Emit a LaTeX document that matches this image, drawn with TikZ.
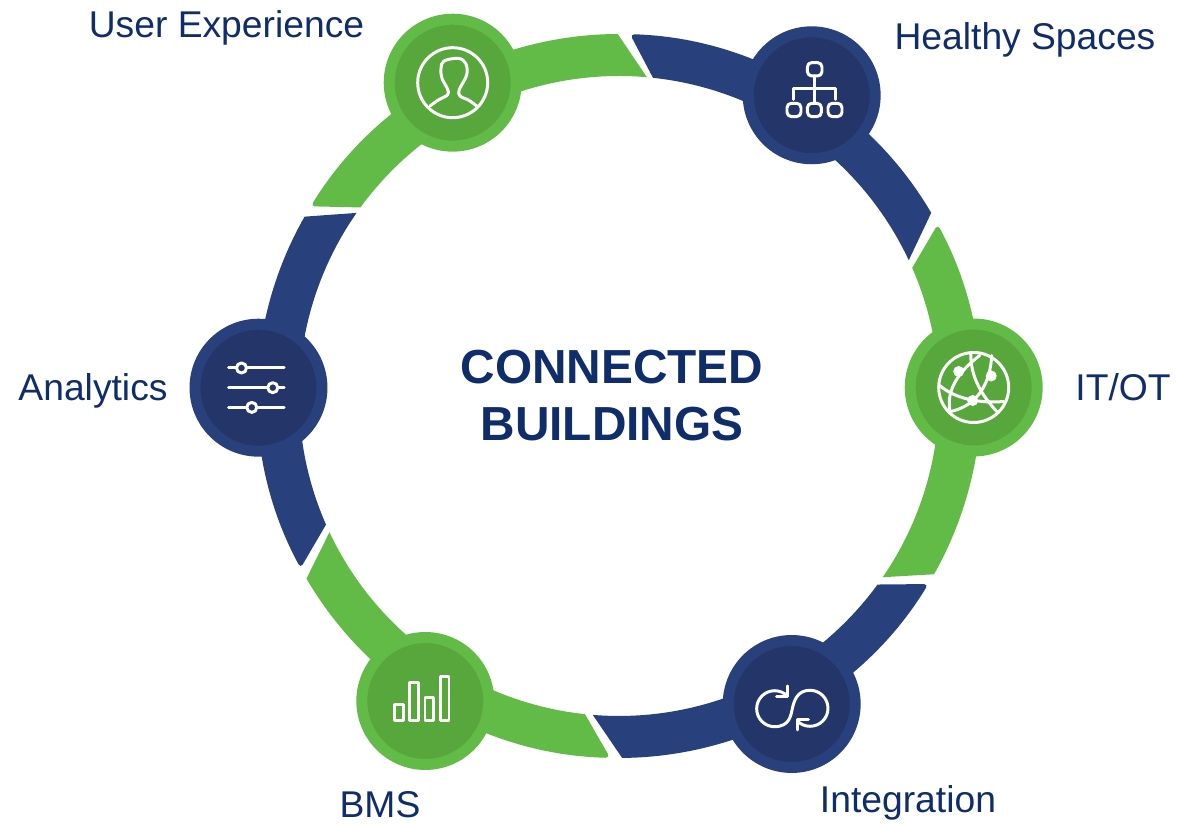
\documentclass[tikz,border=0pt]{standalone}
\usepackage{fontspec}
\setmainfont{Liberation Sans}
\definecolor{ringgreen}{HTML}{62BB46}
\definecolor{coregreen}{HTML}{57A73D}
\definecolor{ringnavy}{HTML}{28407B}
\definecolor{corenavy}{HTML}{243669}
\definecolor{labelblue}{HTML}{0F2C6B}
\tikzset{
	hub/.style={circle, inner sep=0pt, minimum size=2.54cm, line width=6.24pt},
	greenhub/.style={hub, draw=ringgreen, fill=coregreen},
	navyhub/.style={hub, draw=ringnavy, fill=corenavy},
	sidelabel/.style={anchor=base, text=labelblue, font=\fontsize{21.2}{25}\selectfont},
	titlelabel/.style={anchor=base, text=labelblue, font=\fontsize{27.2}{32}\bfseries\selectfont},
	iconline/.style={draw=white, line width=1.7pt, line cap=round, line join=round}
}
\begin{document}
\begin{tikzpicture}[x=0.02cm, y=0.02cm]
	\useasboundingbox (0,0) rectangle (1178,824);
	% ring
	\begin{scope}[shift={(619,428)}]
		\foreach \col/\outA/\inA/\outB/\inB in {ringgreen/148.4/143.9/90.2/85, ringnavy/88.25/83.9/30.4/25.1, ringgreen/28.3/23.6/-29.5/-34.5, ringnavy/-31.3/-36.1/-89.5/-94.7, ringgreen/-91.4/-96.1/-149.7/-154.8, ringnavy/-151.6/-156.3/-209.7/-214.9}
			\fill[\col] (\outB:362) -- (\inB:320) arc[start angle=\inB, end angle=\inA, radius=320] [rounded corners=2.5pt] -- (\outA:362) [sharp corners] arc[start angle=\outA, end angle=\outB, radius=362] -- cycle;
	\end{scope}
	% hubs
	\node[greenhub] (userhub) at (452.7,741.3) {};
	\node[navyhub] (healthyhub) at (811.7,728.7) {};
	\node[greenhub] (ithub) at (973.7,436.5) {};
	\node[navyhub] (integrationhub) at (791.7,120) {};
	\node[greenhub] (bmshub) at (425.3,123) {};
	\node[navyhub] (analyticshub) at (258.5,436.3) {};
	% icons
	\begin{scope}[shift={(userhub)}, iconline]
		\draw (0,0) circle (35);
		\draw plot[smooth, tension=0.6] coordinates {(-22.7,-23.3) (-14.3,-17.3) (-5.3,-12.3) (-5,-6.7) (-10.7,4.3) (-11.7,14.3) (-8.7,21.7) (5.7,24.3) (13,19.3) (14,7.7) (6.7,-6.7) (7.3,-13.3) (15.7,-17.3) (24,-23.3)};
	\end{scope}
	\begin{scope}[shift={(healthyhub)}, iconline]
		\draw[rounded corners=2.5pt] (-4.3,19.3) rectangle (10.3,32.7);
		\foreach \x in {-24.7,-4.3,16.3}
			\draw[rounded corners=2.5pt] (\x,-21.3) rectangle ++(14,13.3);
		\draw (2.9,19.3) -- (2.9,-8);
		\draw (-18,-4) -- (-18,7) -- (23.7,7) -- (23.7,-4);
	\end{scope}
	\begin{scope}[shift={(ithub)}, iconline]
		\draw (0,0) circle (35);
		\draw (-24,-22) .. controls (-27,-2) and (-15,16) .. (6,32);
		\draw (-3,34) .. controls (-3,10) and (8,-8) .. (24,-25);
		\draw (-34,2) .. controls (-18,-12) and (8,-16) .. (30,-14);
		\draw (-23,-24) .. controls (-4,-20) and (16,-5) .. (18,32);
		\fill[white] (-15,16) circle (5.5) (17.5,11.5) circle (5.5) (-1,-13) circle (5.5);
	\end{scope}
	\begin{scope}[shift={(integrationhub)}, iconline]
		\draw (-4.3,8) arc[start angle=45, end angle=270, radius=18] .. controls (-2,-22.3) and (-1,-12) .. (0.7,-4.3) .. controls (2.5,4) and (6,13.7) .. (18.3,13.7) arc[start angle=90, end angle=-135, radius=18];
		\draw (-4.3,18) -- (-4.3,7.3) -- (-15,7.3);
		\draw (5.7,-26) -- (5.7,-16) -- (16.7,-16);
	\end{scope}
	\begin{scope}[shift={(bmshub)}, iconline]
		\draw (-31,-20) rectangle (-22,-4);
		\draw (-15.7,-20) rectangle (-7,18.7);
		\draw (-0.3,-20) rectangle (8.3,3.3);
		\draw (15,-20) rectangle (23.7,24);
	\end{scope}
	\begin{scope}[shift={(analyticshub)}, iconline]
		\foreach \y/\knob in {19.7/-17, 0/14.3, -19.7/-6.7} {
			\draw (-30,\y) -- (25.7,\y);
			\draw[fill=corenavy] (\knob,\y) circle (5);
		}
	\end{scope}
	% labels
	\node[sidelabel] (userlabel) at (226.5,786) {User Experience};
	\node[sidelabel] (healthylabel) at (1025,774) {Healthy Spaces};
	\node[sidelabel] (itlabel) at (1123,423) {IT/OT};
	\node[sidelabel] (integrationlabel) at (908,11) {Integration};
	\node[sidelabel] (bmslabel) at (380,6) {BMS};
	\node[sidelabel] (analyticslabel) at (93,423) {Analytics};
	\node[titlelabel] (titletop) at (612,440) {CONNECTED};
	\node[titlelabel] (titlebottom) at (612,383) {BUILDINGS};
\end{tikzpicture}
\end{document}
